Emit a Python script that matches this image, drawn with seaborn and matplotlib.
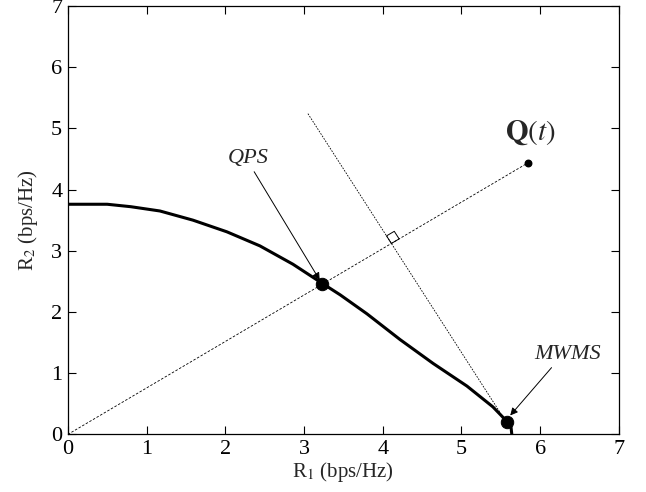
import numpy as np
import pandas as pd
import matplotlib
matplotlib.use("Agg")
import matplotlib.pyplot as plt
import seaborn as sns

# ---- data ----
curve_r1 = [0.0, 0.5, 0.8, 1.17, 1.59, 2.02, 2.44, 2.86, 3.11, 3.23, 3.46, 3.80, 4.22, 4.64, 5.07, 5.40, 5.58, 5.63, 5.64]
curve_r2 = [3.76, 3.76, 3.72, 3.65, 3.50, 3.31, 3.08, 2.78, 2.57, 2.47, 2.28, 1.97, 1.55, 1.16, 0.79, 0.45, 0.21, 0.12, 0.0]

qps_pt = (3.23, 2.46)
mwms_pt = (5.58, 0.21)
q_pt = (5.85, 4.44)
perp_start = (3.05, 5.24)
perp_end = (5.50, 0.34)

ticks = [0, 1, 2, 3, 4, 5, 6, 7]

sns.set_style("ticks")
plt.rcParams['font.family'] = ['Liberation Serif', 'DejaVu Serif']
plt.rcParams['mathtext.fontset'] = 'stix'

fig = plt.figure(figsize=(6.46, 4.92), dpi=100)
ax = fig.add_axes([0.105, 0.117, 0.853, 0.871])

# dashed ray from origin to Q(t)
ray = pd.DataFrame({"x": [0.0, q_pt[0]], "y": [0.0, q_pt[1]]})
sns.lineplot(data=ray, x="x", y="y", ax=ax, color="black", lw=0.6,
             linestyle=(0, (3, 2)), sort=False)
# dashed perpendicular line
perp = pd.DataFrame({"x": [perp_start[0], perp_end[0]], "y": [perp_start[1], perp_end[1]]})
sns.lineplot(data=perp, x="x", y="y", ax=ax, color="black", lw=0.6,
             linestyle=(0, (2, 1.5)), sort=False)

# boundary curve
cdf = pd.DataFrame({"r1": curve_r1, "r2": curve_r2})
sns.lineplot(data=cdf, x="r1", y="r2", ax=ax, color="black", lw=2.2, sort=False)

# points
pts = pd.DataFrame({"x": [qps_pt[0], mwms_pt[0]], "y": [qps_pt[1], mwms_pt[1]]})
sns.scatterplot(data=pts, x="x", y="y", ax=ax, color="black", s=80, edgecolor="black", zorder=5)
ax.scatter([q_pt[0]], [q_pt[1]], color="black", s=22, zorder=5)

# right-angle square at intersection (computed from the lines)
m = q_pt[1] / q_pt[0]
p0 = np.array(perp_start); p1 = np.array(perp_end)
d = p1 - p0
t = (m * p0[0] - p0[1]) / (d[1] - m * d[0])
inter = p0 + t * d
ax.set_xlim(0, 7); ax.set_ylim(0, 7)
fig.canvas.draw()
T = ax.transData
ip = T.transform(inter)
u = T.transform(q_pt) - T.transform((0, 0)); u = u / np.linalg.norm(u)
v = T.transform(perp_start) - T.transform(perp_end); v = v / np.linalg.norm(v)
s = 9
sq_px = np.array([ip, ip + s * u, ip + s * u + s * v, ip + s * v, ip])
sq = T.inverted().transform(sq_px)
ax.plot(sq[:, 0], sq[:, 1], color="black", lw=0.7)

# annotations
arrow = dict(arrowstyle="-|>", color="black", lw=0.7, mutation_scale=11, shrinkA=0, shrinkB=0)
ax.annotate("QPS", xy=(3.20, 2.52), xytext=(2.29, 4.50), fontsize=16, style="italic",
            ha="center", va="center", arrowprops=dict(arrow, relpos=(0.6, 0.0)))
ax.annotate("MWMS", xy=(5.62, 0.31), xytext=(6.35, 1.30), fontsize=16, style="italic",
            ha="center", va="center", arrowprops=dict(arrow, relpos=(0.3, 0.0)))
ax.text(5.87, 4.93, r"$\mathbf{Q}(t)$", fontsize=21, ha="center", va="center")

ax.set_xlim(0, 7)
ax.set_ylim(0, 7)
ax.set_xticks(ticks)
ax.set_yticks(ticks)
ax.tick_params(direction="in", top=True, right=True, length=6, width=0.8,
               labelsize=16, colors="black", pad=4)
for sp in ax.spines.values():
    sp.set_visible(True)
    sp.set_linewidth(0.9)
    sp.set_color("black")
ax.set_xlabel(r"R$_1$ (bps/Hz)", fontsize=15, labelpad=1)
ax.set_ylabel(r"R$_2$ (bps/Hz)", fontsize=15, labelpad=8)
ax.set_facecolor("white")
fig.patch.set_facecolor("white")
fig.savefig("out.png", dpi=100)
